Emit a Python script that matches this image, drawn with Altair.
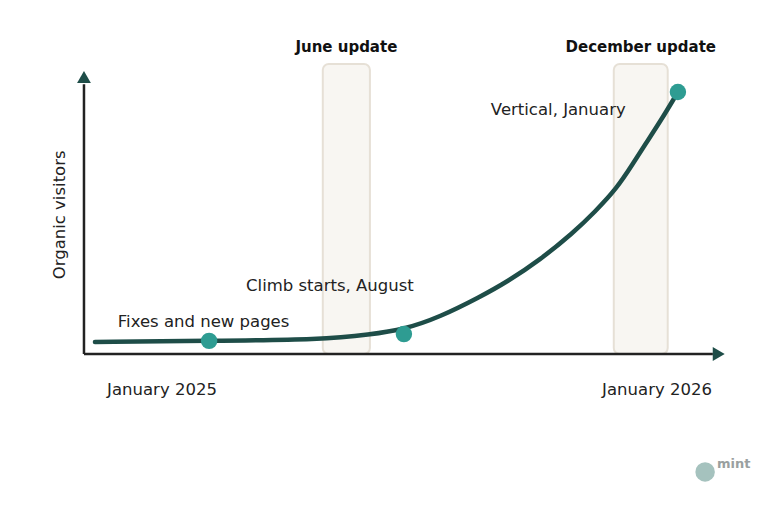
import altair as alt
import pandas as pd

# ---- data (abstract units: x = months-ish position, y = visitors index) ----
curve_x = [0, 2.35, 4.69, 5.66, 6.36, 7.10, 7.93, 8.48, 9.16, 9.84, 10.29, 10.75, 11.07, 11.32, 11.67, 12.0]
curve_y = [4.6, 5.0, 5.5, 7.4, 9.35, 14.1, 21.8, 27.5, 35.9, 46.2, 54.2, 63.4, 72.5, 79.8, 89.7, 100]

milestone_x = [2.35, 6.36, 12.0]
milestone_y = [5.0, 7.6, 100]

band_names = ["June update", "December update"]
band_start = [4.69, 10.68]
band_end = [5.66, 11.79]
band_top = [110.7, 110.7]

note_text = ["Fixes and new pages", "Climb starts, August", "Vertical, January"]
note_x = [0.47, 3.11, 8.15]
note_y = [12.2, 26.0, 93.1]

tick_labels = ["January 2025", "January 2026"]
tick_x = [1.38, 11.57]

y_title = "Organic visitors"

XDOM = [-1.79, 13.69]
YDOM = [-55.73, 132.06]
FONT = "DejaVu Sans"
INK = "#222222"

xs = alt.Scale(domain=XDOM, nice=False, zero=False)
ys = alt.Scale(domain=YDOM, nice=False, zero=False)

def X(f, **k):
    return alt.X(f, type="quantitative", scale=xs, axis=None, **k)

def Y(f, **k):
    return alt.Y(f, type="quantitative", scale=ys, axis=None, **k)

bands = pd.DataFrame({"name": band_names, "x0": band_start, "x1": band_end,
                      "top": band_top, "xc": [(a + b) / 2 for a, b in zip(band_start, band_end)],
                      "ty": [t + 6.5 for t in band_top]})
band_layer = alt.Chart(bands).mark_rect(fill="#f8f6f2", stroke="#e6e0d6", strokeWidth=2,
                                        cornerRadius=6).encode(
    x=X("x0:Q"), x2="x1:Q", y=Y("top:Q"), y2=alt.datum(0))
band_title = alt.Chart(bands).mark_text(font=FONT, fontSize=15, fontWeight="bold",
                                        color="#111111", baseline="middle").encode(
    x=X("xc:Q"), y=Y("ty:Q"), text="name:N")

# axes as arrows
axes_df = pd.DataFrame({"x0": [-0.226, -0.226], "x1": [-0.226, 12.72],
                        "y0": [0, 0], "y1": [103, 0]})
axis_lines = alt.Chart(axes_df).mark_rule(color=INK, strokeWidth=2.5).encode(
    x=X("x0:Q"), x2="x1:Q", y=Y("y0:Q"), y2="y1:Q")
heads = pd.DataFrame({"x": [-0.226, 12.84], "y": [105.7, 0],
                      "shape": ["triangle-up", "triangle-right"]})
head_layer = alt.Chart(heads).mark_point(filled=True, color="#1e4d48", opacity=1, size=190).encode(
    x=X("x:Q"), y=Y("y:Q"), shape=alt.Shape("shape:N", scale=None))

curve = pd.DataFrame({"x": curve_x, "y": curve_y})
line_layer = alt.Chart(curve).mark_line(color="#1e4d48", strokeWidth=4.5,
                                        interpolate="basis", strokeCap="round").encode(
    x=X("x:Q"), y=Y("y:Q"))

pts = pd.DataFrame({"x": milestone_x, "y": milestone_y})
pt_layer = alt.Chart(pts).mark_circle(color="#2e9c92", opacity=1, size=270).encode(
    x=X("x:Q"), y=Y("y:Q"))

notes = pd.DataFrame({"t": note_text, "x": note_x, "y": note_y})
note_layer = alt.Chart(notes).mark_text(font=FONT, fontSize=16.5, color=INK, align="left",
                                        baseline="middle").encode(
    x=X("x:Q"), y=Y("y:Q"), text="t:N")

ticks = pd.DataFrame({"t": tick_labels, "x": tick_x, "y": [-13.7, -13.7]})
tick_layer = alt.Chart(ticks).mark_text(font=FONT, fontSize=16.5, color=INK, align="center",
                                        baseline="middle").encode(
    x=X("x:Q"), y=Y("y:Q"), text="t:N")

ytitle = pd.DataFrame({"t": [y_title], "x": [-0.72], "y": [53.1]})
ytitle_layer = alt.Chart(ytitle).mark_text(font=FONT, fontSize=16.5, color=INK, angle=270,
                                           align="center", baseline="middle").encode(
    x=X("x:Q"), y=Y("y:Q"), text="t:N")

# small logo
logo = pd.DataFrame({"x": [12.56], "y": [-45.0], "t": ["mint"], "tx": [13.15], "ty": [-42.0]})
logo_circle = alt.Chart(logo).mark_circle(color="#8fb3ae", opacity=0.8, size=380).encode(
    x=X("x:Q"), y=Y("y:Q"))
logo_text = alt.Chart(logo).mark_text(font=FONT, fontSize=13, fontWeight="bold",
                                      color="#9aa0a0", baseline="middle").encode(
    x=X("tx:Q"), y=Y("ty:Q"), text="t:N")

chart = alt.layer(band_layer, band_title, axis_lines, head_layer, line_layer, pt_layer,
                  note_layer, tick_layer, ytitle_layer, logo_circle, logo_text).properties(
    width=752, height=492, autosize=alt.AutoSizeParams(type="none"), padding=0,
    background="white"
).configure_view(stroke=None)

chart.save("out.html", embed_options={"renderer": "svg", "actions": False})
